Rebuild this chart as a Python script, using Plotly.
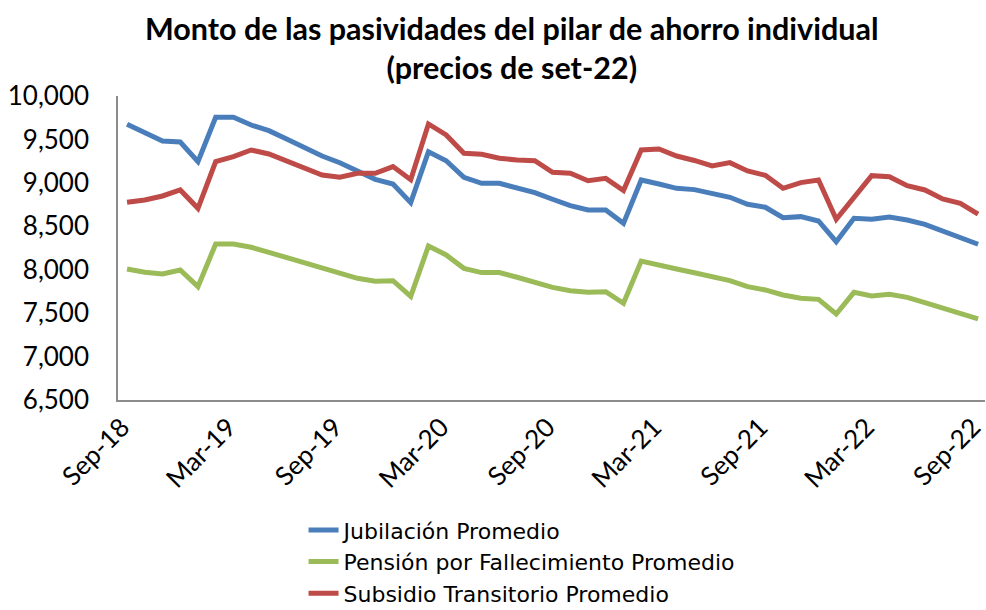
import pandas as pd
import plotly.graph_objects as go

months = pd.date_range("2018-09-01", "2022-09-01", freq="MS").strftime("%b-%y").tolist()

jubilacion = [9674, 9570, 9482, 9470, 9244, 9755, 9755, 9666, 9601, 9505,
              9409, 9309, 9232, 9128, 9040, 8987, 8772, 9359, 9255, 9064,
              8995, 8995, 8945, 8887, 8811, 8737, 8688, 8688, 8534, 9033,
              8987, 8937, 8922, 8880, 8834, 8753, 8719, 8599, 8611, 8561,
              8323, 8592, 8580, 8607, 8572, 8522, 8449, 8373, 8293]

pension = [8008, 7970, 7951, 7997, 7805, 8296, 8296, 8258, 8200, 8139,
           8081, 8016, 7967, 7901, 7867, 7874, 7693, 8273, 8170, 8016,
           7967, 7967, 7913, 7851, 7797, 7759, 7740, 7747, 7613, 8100,
           8047, 8008, 7965, 7921, 7874, 7805, 7767, 7709, 7671, 7659,
           7490, 7740, 7697, 7717, 7682, 7621, 7556, 7490, 7433]

subsidio = [8776, 8803, 8849, 8918, 8707, 9244, 9302, 9378, 9332, 9255,
            9168, 9090, 9064, 9110, 9110, 9187, 9036, 9678, 9551, 9340,
            9329, 9283, 9263, 9255, 9121, 9110, 9025, 9052, 8911, 9378,
            9390, 9309, 9258, 9194, 9233, 9137, 9087, 8937, 9003, 9033,
            8580, 8834, 9083, 9071, 8967, 8918, 8814, 8765, 8641]

tick_labels = months[::6]

series = [
    ("Jubilación Promedio", jubilacion, "#4A7EBB"),
    ("Pensión por Fallecimiento Promedio", pension, "#9BBB59"),
    ("Subsidio Transitorio Promedio", subsidio, "#BE4B48"),
]

FONT = "Lato"

fig = go.Figure()
for name, vals, color in series:
    fig.add_trace(go.Scatter(
        x=months, y=vals, name=name, mode="lines",
        line=dict(color=color, width=5),
    ))

fig.update_layout(
    width=986, height=610,
    margin=dict(l=118, r=1, t=96, b=210, autoexpand=False),
    paper_bgcolor="white", plot_bgcolor="white",
    font=dict(family=FONT, color="black", size=26),
    title=dict(
        text="<b>Monto de las pasividades del pilar de ahorro individual<br>(precios de set-22)</b>",
        font=dict(family=FONT, size=30.5, color="black"),
        x=0.519, xanchor="center", xref="container",
        y=0.935, yanchor="top", yref="container",
    ),
    showlegend=True,
    legend=dict(
        xref="paper", yref="paper",
        x=0.214, xanchor="left", y=-0.359, yanchor="top",
        font=dict(family="DejaVu Sans", size=22, color="black"),
        bgcolor="rgba(0,0,0,0)", borderwidth=0,
        traceorder="normal",
    ),
)

fig.update_xaxes(
    type="category", categoryorder="array", categoryarray=months,
    range=[-0.51, 48.39],
    tickmode="array", tickvals=tick_labels, ticktext=tick_labels,
    tickangle=-45, ticklabelshift=-5, showgrid=False, zeroline=False,
    showline=True, linecolor="#8C8C8C", linewidth=1.5,
    ticks="", tickfont=dict(family=FONT, size=26, color="black"),
)
fig.update_yaxes(
    range=[6500, 10000], dtick=500, tick0=6500, tickformat=",",
    showgrid=False, zeroline=False,
    showline=True, linecolor="#8C8C8C", linewidth=1.5,
    ticks="", ticklabelstandoff=22,
    tickfont=dict(family=FONT, size=26, color="black"),
)

fig.write_html("out.html", config={"displayModeBar": False},
               post_script="document.body.style.margin='0';")
